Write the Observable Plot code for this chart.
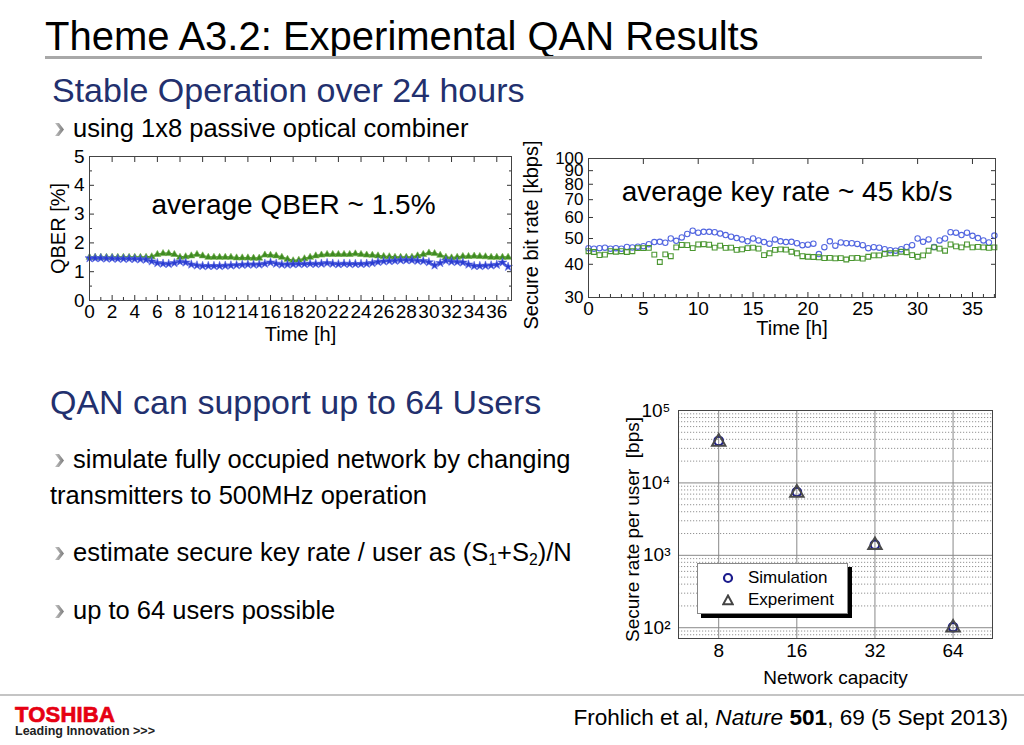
<!DOCTYPE html>
<html>
<head>
<meta charset="utf-8">
<script src="https://cdn.jsdelivr.net/npm/d3@7"></script>
<script src="https://cdn.jsdelivr.net/npm/@observablehq/plot@0.6"></script>
<style>
  html, body { margin: 0; padding: 0; background: #fff; }
  body { width: 1024px; height: 745px; position: relative; overflow: hidden; font-family: "Liberation Sans", Arial, sans-serif; color: #000; }
  .abs { position: absolute; white-space: nowrap; }
  .title { left: 45px; top: 16px; font-size: 40px; line-height: 40px; }
  .rule { position: absolute; left: 45px; top: 56px; width: 937px; height: 3px; background: #a8a8a8; }
  .head { font-size: 34px; line-height: 34px; color: #22306e; }
  .bullet { font-size: 25.5px; line-height: 25.5px; }
  .chev { display: inline-block; width: 9px; height: 13px; margin-left: 1px; margin-right: 9px; vertical-align: 1px; }
  .chart { position: absolute; }
  .footrule { position: absolute; left: 0; top: 694px; width: 1024px; height: 2px; background: #c4c4c4; }
  .toshiba { left: 15px; top: 704px; font-size: 22px; line-height: 22px; font-weight: bold; color: #e60012; letter-spacing: 0.2px; -webkit-text-stroke: 0.7px #e60012; }
  .leading { left: 15px; top: 725px; font-size: 12.5px; line-height: 13px; font-weight: bold; color: #222; font-family: "Liberation Sans Narrow", "Liberation Sans", sans-serif; }
  .cite { right: 16px; top: 707px; font-size: 22.6px; line-height: 22.6px; }
  .legend { position: absolute; left: 697px; top: 563px; width: 149px; height: 49px; background: #fff; border: 1px solid #888; box-shadow: 4px 4px 0 #000; font-size: 17px; }
  .legend .row { position: absolute; left: 0; height: 22px; display: flex; align-items: center; }
  .legend svg { margin-left: 24px; margin-right: 14px; }
  sub { font-size: 0.62em; vertical-align: -0.25em; line-height: 0; }
</style>
</head>
<body>
<svg width="0" height="0" style="position:absolute">
  <defs>
    <linearGradient id="chevGrad" x1="0" y1="0" x2="1" y2="0">
      <stop offset="0" stop-color="#c4c4c4"/><stop offset="1" stop-color="#7a7a7a"/>
    </linearGradient>
    <symbol id="chevron" viewBox="0 0 9 13"><path d="M0,0 L4,0 L9,6.5 L4,13 L0,13 L5,6.5 Z" fill="url(#chevGrad)"/></symbol>
  </defs>
</svg>
<div class="abs title">Theme A3.2: Experimental QAN Results</div>
<div class="rule"></div>
<div class="abs head" style="left:52px; top:73px;">Stable Operation over 24 hours</div>
<div class="abs bullet" style="left:54px; top:116px;"><svg class="chev"><use href="#chevron"/></svg>using 1x8 passive optical combiner</div>

<div class="chart" id="qber" style="left:40px; top:140px; width:480px; height:210px;"></div>
<div class="chart" id="rate" style="left:515px; top:140px; width:500px; height:205px;"></div>

<div class="abs head" style="left:50px; top:385px;">QAN can support up to 64 Users</div>
<div class="abs bullet" style="left:54px; top:447px;"><svg class="chev"><use href="#chevron"/></svg>simulate fully occupied network by changing</div>
<div class="abs bullet" style="left:50px; top:483px;">transmitters to 500MHz operation</div>
<div class="abs bullet" style="left:54px; top:540px;"><svg class="chev"><use href="#chevron"/></svg>estimate secure key rate / user as (S<sub>1</sub>+S<sub>2</sub>)/N</div>
<div class="abs bullet" style="left:54px; top:598px;"><svg class="chev"><use href="#chevron"/></svg>up to 64 users possible</div>

<div class="chart" id="users" style="left:600px; top:395px; width:400px; height:300px;"></div>
<div class="legend">
  <div class="row" style="top:3px;"><svg width="12" height="12"><circle cx="6" cy="6" r="4" fill="none" stroke="#1a1a8c" stroke-width="2.2"/></svg>Simulation</div>
  <div class="row" style="top:25px;"><svg width="12" height="12"><path d="M6,1.5 L10.8,10.3 L1.2,10.3 Z" fill="none" stroke="#444" stroke-width="2"/></svg>Experiment</div>
</div>

<div class="footrule"></div>
<div class="abs toshiba">TOSHIBA</div>
<div class="abs leading">Leading Innovation &gt;&gt;&gt;</div>
<div class="abs cite">Frohlich et al, <i>Nature</i> <b>501</b>, 69 (5 Sept 2013)</div>

<script>
// ---------- Data ----------
// sample times (hours) for the 24h stability runs
const hours = [0,0.5,1,1.5,2,2.5,3,3.5,4,4.5,5,5.5,6,6.5,7,7.5,8,8.5,9,9.5,10,10.5,11,11.5,12,12.5,13,13.5,14,14.5,15,15.5,16,16.5,17,17.5,18,18.5,19,19.5,20,20.5,21,21.5,22,22.5,23,23.5,24,24.5,25,25.5,26,26.5,27,27.5,28,28.5,29,29.5,30,30.5,31,31.5,32,32.5,33,33.5,34,34.5,35,35.5,36,36.5,37];

// QBER [%]
const qberGreen = [1.5,1.5,1.5,1.5,1.5,1.5,1.5,1.5,1.5,1.5,1.5,
  1.52,1.6,1.63,1.63,1.6,1.5,1.52,1.55,1.6,1.55,1.5,
  1.5,1.5,1.5,1.5,1.48,1.48,1.48,1.47,1.47,
  1.58,1.57,1.55,1.5,1.43,1.38,1.4,1.45,1.5,1.55,
  1.58,1.6,1.6,1.6,1.6,1.6,1.62,1.6,1.58,1.57,
  1.55,1.53,1.52,1.5,1.5,1.5,1.5,1.55,1.6,1.65,
  1.63,1.57,1.5,1.48,1.5,1.53,1.53,1.54,1.53,1.52,
  1.5,1.5,1.5,1.5];
const qberBlue = [1.47,1.47,1.47,1.46,1.46,1.45,1.45,1.45,1.44,
  1.43,1.42,1.36,1.3,1.28,1.27,1.3,1.35,1.32,1.25,
  1.22,1.2,1.2,1.2,1.2,1.21,1.22,1.23,1.24,1.25,
  1.25,1.25,1.28,1.32,1.28,1.25,1.25,1.26,1.27,1.27,
  1.28,1.27,1.28,1.3,1.28,1.26,1.28,1.27,1.27,1.27,
  1.28,1.3,1.34,1.36,1.37,1.38,1.4,1.4,1.4,1.38,
  1.37,1.33,1.22,1.3,1.38,1.35,1.34,1.32,1.25,1.2,
  1.2,1.21,1.22,1.24,1.32,1.17];

// Secure bit rate [kbps]
const rateBlue = [46,45.8,46,46.2,45.8,46,45.8,46.5,46.3,46.6,
  46.8,47.6,48.5,48.6,48.2,50,49,50.5,52,53.5,
  52.6,53,53,52.8,52.2,51.5,50.8,50.2,49.6,48.8,
  50,49.2,48.5,47.8,49.6,48.8,48.5,48.6,48,47.2,
  47.4,47.8,43.7,46.4,48.8,47,48.3,48,48,47.7,
  47.2,46,46.4,46.2,45.6,45.2,45,45.6,46.5,47.2,
  50,48.6,49.6,46.5,49.2,50,52.8,52.6,51.5,52.6,
  51.2,50.2,49.2,48.3,51.3];
const rateGreen = [44.8,44.5,43.3,43.5,44.8,44.6,44.8,44.5,44.8,46,
  46,46.1,43.5,40.8,43.6,42.9,46.3,47.3,47.2,46,
  47.5,47.6,47.4,46.2,47,46.1,46.2,45.3,45.5,46,
  46.2,45.8,43.3,44,45.3,45.5,45.4,44.6,44,42.9,
  42.7,42.6,42.5,42.2,42.3,42.1,42.2,41.7,42.2,42.3,
  42,42.7,43.2,43.2,43.8,44,44,44.6,44.4,43.3,
  42.7,43.2,45,46.3,45.8,45,47.5,46.7,46.3,47.5,
  46.3,46.5,46.3,46.1,46.3];

// Secure rate per user [bps] vs network capacity
const capacity = [8, 16, 32, 64];
const simulationRate = [38000, 7500, 1400, 102];
const experimentRate = [37000, 7300, 1380, 100];

// tick values
const qberXTicks = [0,2,4,6,8,10,12,14,16,18,20,22,24,26,28,30,32,34,36];
const qberXMinor = [1,3,5,7,9,11,13,15,17,19,21,23,25,27,29,31,33,35,37];
const qberYTicks = [0,1,2,3,4,5];
const qberYMinor = [0.5,1.5,2.5,3.5,4.5];
const rateXTicks = [0,5,10,15,20,25,30,35];
const rateXMinor = [1,2,3,4,6,7,8,9,11,12,13,14,16,17,18,19,21,22,23,24,26,27,28,29,31,32,33,34,36,37];
const rateYTicks = [30,40,50,60,70,80,90,100];
const userYTicks = [100, 1000, 10000, 100000];
const userYMinor = [80,90,200,300,400,500,600,700,800,900,2000,3000,4000,5000,6000,7000,8000,9000,20000,30000,40000,50000,60000,70000,80000,90000];
const supDigits = {"2":"\u00B2","3":"\u00B3","4":"\u2074","5":"\u2075"};

// ---------- Build tables ----------
const qberG = hours.map((h, i) => ({h, v: qberGreen[i]}));
const qberB = hours.map((h, i) => ({h, v: qberBlue[i]}));
const rateB = hours.map((h, i) => ({h, v: rateBlue[i]}));
const rateG = hours.map((h, i) => ({h, v: rateGreen[i]}));
const sim = capacity.map((c, i) => ({c, v: simulationRate[i]}));
const exp = capacity.map((c, i) => ({c, v: experimentRate[i]}));

const baseStyle = {fontFamily: "'Liberation Sans', Arial, sans-serif", fontSize: "19px", color: "#000", background: "transparent", overflow: "visible"};
const blank = () => "";
const lbl = {lineAnchor: "middle", textAnchor: "middle"};

// ---------- Chart 1: QBER ----------
const qber = Plot.plot({
  width: 480, height: 210,
  marginLeft: 49, marginRight: 9, marginTop: 16, marginBottom: 50,
  style: baseStyle,
  x: {domain: [0, 37.3]},
  y: {domain: [0, 5]},
  marks: [
    Plot.axisX({ticks: qberXTicks, tickSize: -5, tickPadding: 9, tickFormat: d => d, label: null, stroke: "#333"}),
    Plot.axisX({ticks: qberXMinor, tickSize: -3, tickFormat: blank, label: null, stroke: "#333"}),
    Plot.axisX({anchor: "top", ticks: qberXTicks, tickSize: -5, tickFormat: blank, label: null, stroke: "#333"}),
    Plot.axisY({ticks: qberYTicks, tickSize: -5, tickPadding: 10, tickFormat: d => d, label: null, stroke: "#333"}),
    Plot.axisY({ticks: qberYMinor, tickSize: -3, tickFormat: blank, label: null, stroke: "#333"}),
    Plot.axisY({anchor: "right", ticks: qberYTicks, tickSize: -5, tickFormat: blank, label: null, stroke: "#333"}),
    Plot.axisY({anchor: "right", ticks: qberYMinor, tickSize: -3, tickFormat: blank, label: null, stroke: "#333"}),
    Plot.line(qberG, {x: "h", y: "v", stroke: "#3f8a22", strokeWidth: 2}),
    Plot.dot(qberG, {x: "h", y: "v", symbol: "triangle", r: 2.6, fill: "#3f8a22", stroke: "#6fb04a", strokeWidth: 0.6}),
    Plot.line(qberB, {x: "h", y: "v", stroke: "#2a3cd0", strokeWidth: 2}),
    Plot.dot(qberB, {x: "h", y: "v", symbol: "star", r: 2.8, fill: "#2a3cd0", stroke: "#5a6ae0", strokeWidth: 0.6}),
    Plot.frame({stroke: "#444"}),
    Plot.text(["average QBER ~ 1.5%"], {frameAnchor: "top", dx: -7, dy: 49, fontSize: 28, ...lbl}),
    Plot.text(["Time [h]"], {frameAnchor: "bottom", dy: 34, fontSize: 20, ...lbl}),
    Plot.text(["QBER [%]"], {frameAnchor: "left", rotate: -90, dx: -31, dy: 0, fontSize: 20, ...lbl})
  ]
});
document.getElementById("qber").append(qber);

// ---------- Chart 2: secure bit rate ----------
const rate = Plot.plot({
  width: 500, height: 205,
  marginLeft: 73, marginRight: 20, marginTop: 18, marginBottom: 48,
  style: baseStyle,
  x: {domain: [0, 37.1]},
  y: {type: "log", domain: [30, 100]},
  marks: [
    Plot.axisX({ticks: rateXTicks, tickSize: -5, tickPadding: 9, tickFormat: d => d, label: null, stroke: "#333"}),
    Plot.axisX({ticks: rateXMinor, tickSize: -3, tickFormat: blank, label: null, stroke: "#333"}),
    Plot.axisX({anchor: "top", ticks: rateXTicks, tickSize: -5, tickFormat: blank, label: null, stroke: "#333"}),
    Plot.axisY({ticks: rateYTicks, tickSize: -5, tickPadding: 10, tickFormat: d => d, label: null, stroke: "#333", fontSize: 17}),
    Plot.axisY({anchor: "right", ticks: rateYTicks, tickSize: -5, tickFormat: blank, label: null, stroke: "#333"}),
    Plot.dot(rateB, {x: "h", y: "v", symbol: "circle", r: 2.7, fill: "none", stroke: "#5266e0", strokeWidth: 1.1}),
    Plot.dot(rateG, {x: "h", y: "v", symbol: "square", r: 2.7, fill: "none", stroke: "#4a9630", strokeWidth: 1.1}),
    Plot.frame({stroke: "#444"}),
    Plot.text(["average key rate ~ 45 kb/s"], {frameAnchor: "top", dx: -5, dy: 34, fontSize: 28, ...lbl}),
    Plot.text(["Time [h]"], {frameAnchor: "bottom", dy: 31, fontSize: 20, ...lbl}),
    Plot.text(["Secure bit rate [kbps]"], {frameAnchor: "left", rotate: -90, dx: -57, dy: 7, fontSize: 20, ...lbl})
  ]
});
document.getElementById("rate").append(rate);

// ---------- Chart 3: secure rate per user ----------
const users = Plot.plot({
  width: 400, height: 300,
  marginLeft: 78, marginRight: 8, marginTop: 15, marginBottom: 57,
  style: baseStyle,
  x: {type: "log", base: 2, domain: [5.6, 90.8]},
  y: {type: "log", domain: [71, 100000]},
  marks: [
    Plot.gridY(userYMinor, {stroke: "#777", strokeOpacity: 1, strokeWidth: 0.8, strokeDasharray: "1.2,1.8"}),
    Plot.gridY(userYTicks, {stroke: "#888", strokeOpacity: 1, strokeWidth: 1}),
    Plot.gridX(capacity, {stroke: "#888", strokeOpacity: 1, strokeWidth: 1}),
    Plot.axisX({ticks: capacity, tickSize: 0, tickPadding: 5, tickFormat: d => d, label: null, fontSize: 19}),
    Plot.axisY({ticks: userYTicks, tickSize: 0, tickPadding: 8, label: null, fontSize: 19,
      tickFormat: d => "10" + supDigits[String(Math.round(Math.log10(d)))]}),
    Plot.frame({stroke: "#444"}),
    Plot.dot(sim, {x: "c", y: "v", symbol: "circle", r: 4.3, fill: "none", stroke: "#1a1a8c", strokeWidth: 2.2}),
    Plot.dot(exp, {x: "c", y: "v", symbol: "triangle", r: 5, fill: "none", stroke: "#4a4a4a", strokeWidth: 2}),
    Plot.text(["Network capacity"], {frameAnchor: "bottom", dy: 39, fontSize: 19, ...lbl}),
    Plot.text(["Secure rate per user  [bps]"], {frameAnchor: "left", rotate: -90, dx: -46, dy: 5, fontSize: 19, ...lbl})
  ]
});
document.getElementById("users").append(users);
</script>
</body>
</html>
